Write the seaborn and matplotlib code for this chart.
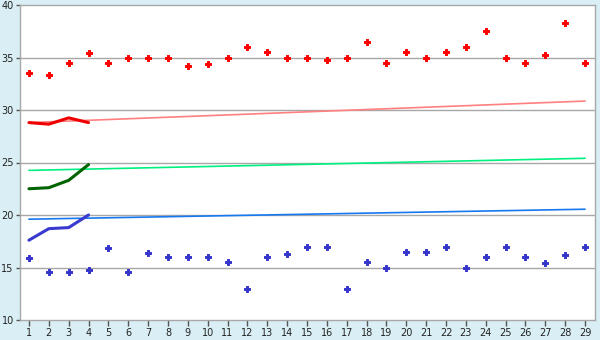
import matplotlib
matplotlib.use("Agg")
import matplotlib.pyplot as plt
import seaborn as sns
import numpy as np
import pandas as pd

days = list(range(1, 30))
red_points = [33.5, 33.3, 34.5, 35.4, 34.5, 35.0, 35.0, 35.0, 34.2, 34.4,
              35.0, 36.0, 35.5, 35.0, 35.0, 34.8, 35.0, 36.5, 34.5, 35.5,
              35.0, 35.5, 36.0, 37.5, 35.0, 34.5, 35.2, 38.3, 34.5]
blue_points = [15.9, 14.6, 14.6, 14.8, 16.9, 14.6, 16.35, 16.0, 16.0, 16.0,
               15.5, 13.0, 16.0, 16.25, 17.0, 17.0, 13.0, 15.5, 15.0, 16.5,
               16.5, 17.0, 15.0, 16.0, 17.0, 16.0, 15.4, 16.2, 17.0]

early_days = [1, 2, 3, 4]
red_early = [28.8, 28.65, 29.25, 28.8]
green_early = [22.5, 22.6, 23.3, 24.8]
blue_early = [17.6, 18.7, 18.8, 20.0]

trend_days = [1, 29]
red_trend = [28.8, 30.85]
green_trend = [24.25, 25.4]
blue_trend = [19.6, 20.55]

yticks = [10, 15, 20, 25, 30, 35, 40]

bg = "#d9eff5"
grid_c = "#a8a8a8"

sns.set_style("white")
plt.rcParams['font.family'] = ['DejaVu Sans']

fig = plt.figure(figsize=(6, 3.4), dpi=100, facecolor=bg)
ax = fig.add_axes([20/600, 1-320/340, 575/600, 315/340])
ax.set_facecolor("white")

for y in [15, 20, 25, 30, 35]:
    ax.axhline(y, color=grid_c, lw=1, zorder=0)

sns.lineplot(x=trend_days, y=red_trend, color="#ff8080", lw=1.2, ax=ax, zorder=2)
sns.lineplot(x=trend_days, y=green_trend, color="#00f080", lw=1.2, ax=ax, zorder=2)
sns.lineplot(x=trend_days, y=blue_trend, color="#1878f0", lw=1.2, ax=ax, zorder=2)

sns.lineplot(x=early_days, y=red_early, color="#ee0000", lw=2.2, ax=ax, zorder=3)
sns.lineplot(x=early_days, y=green_early, color="#006400", lw=2.2, ax=ax, zorder=3)
sns.lineplot(x=early_days, y=blue_early, color="#3a3ad0", lw=2.2, ax=ax, zorder=3)

sns.scatterplot(x=days, y=red_points, color="#ff0000", marker="P", s=18,
                edgecolor="#ff0000", linewidth=0.7, ax=ax, zorder=4)
sns.scatterplot(x=days, y=blue_points, color="#3535cc", marker="P", s=14,
                edgecolor="#3535cc", linewidth=0.7, ax=ax, zorder=4)

ax.set_xlim(0.55, 29.5)
ax.set_ylim(10, 40)
ax.set_xticks(days)
ax.set_xticklabels([str(d) for d in days])
ax.set_yticks(yticks)
ax.set_yticklabels([str(v) for v in yticks])
ax.tick_params(axis='both', direction='out', width=1, color="#555555",
               labelsize=7, labelcolor="#222222")
ax.tick_params(axis='x', bottom=True, length=4, pad=2)
ax.tick_params(axis='y', left=True, length=3, pad=1.5)
for s in ax.spines.values():
    s.set_color(grid_c)
    s.set_linewidth(1)

fig.savefig("out.png", dpi=100, facecolor=bg)
